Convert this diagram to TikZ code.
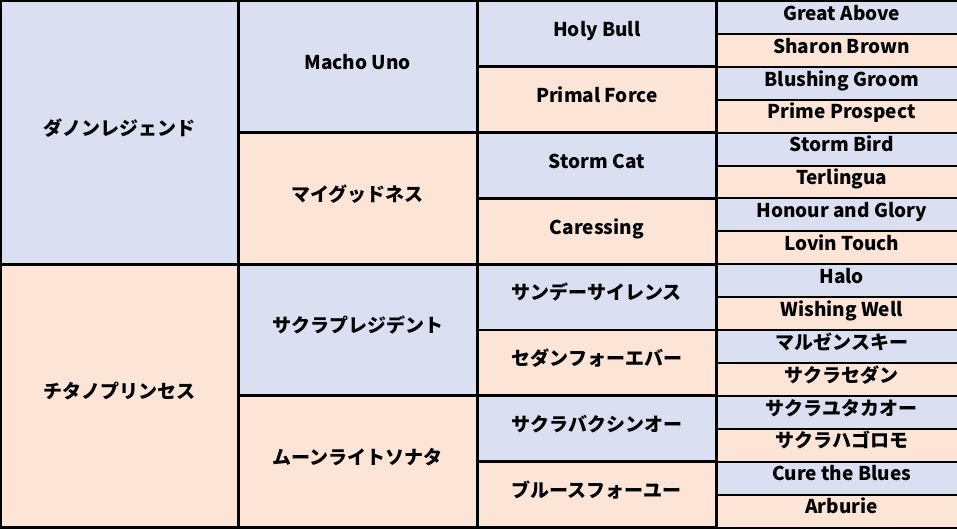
\documentclass[tikz,border=0pt]{standalone}
\usepackage{fontspec}
\setmainfont{Noto Sans CJK JP}
\usetikzlibrary{positioning}
\definecolor{sireblue}{RGB}{218,224,242}
\definecolor{damrose}{RGB}{252,228,214}

\begin{document}
\begin{tikzpicture}[x=1pt,y=-1pt,
                    cell/.style={draw,line width=2.8pt,anchor=north west,outer sep=0pt,
                                 inner sep=0pt,minimum width=238.6pt,
                                 text height=0.8em,text depth=0.25em,
                                 font=\bfseries\fontsize{19}{22}\selectfont},
                    gen1/.style={cell,minimum height=8*32.906pt},
                    gen2/.style={cell,minimum height=4*32.906pt},
                    gen3/.style={cell,minimum height=2*32.906pt},
                    gen4/.style={cell,line width=2pt,minimum height=32.906pt,minimum width=250pt},
                    sire/.style={fill=sireblue},
                    dam/.style={fill=damrose}]

  \useasboundingbox (0,0) rectangle (957,529);

  % fourth generation
  \node[gen4,sire] (ssss) at (716.7,1+0*32.906)  {Great Above};
  \node[gen4,dam]  (sssd) at (716.7,1+1*32.906)  {Sharon Brown};
  \node[gen4,sire] (ssds) at (716.7,1+2*32.906)  {Blushing Groom};
  \node[gen4,dam]  (ssdd) at (716.7,1+3*32.906)  {Prime Prospect};
  \node[gen4,sire] (sdss) at (716.7,1+4*32.906)  {Storm Bird};
  \node[gen4,dam]  (sdsd) at (716.7,1+5*32.906)  {Terlingua};
  \node[gen4,sire] (sdds) at (716.7,1+6*32.906)  {Honour and Glory};
  \node[gen4,dam]  (sddd) at (716.7,1+7*32.906)  {Lovin Touch};
  \node[gen4,sire] (dsss) at (716.7,1+8*32.906)  {Halo};
  \node[gen4,dam]  (dssd) at (716.7,1+9*32.906)  {Wishing Well};
  \node[gen4,sire] (dsds) at (716.7,1+10*32.906) {マルゼンスキー};
  \node[gen4,dam]  (dsdd) at (716.7,1+11*32.906) {サクラセダン};
  \node[gen4,sire] (ddss) at (716.7,1+12*32.906) {サクラユタカオー};
  \node[gen4,dam]  (ddsd) at (716.7,1+13*32.906) {サクラハゴロモ};
  \node[gen4,sire] (ddds) at (716.7,1+14*32.906) {Cure the Blues};
  \node[gen4,dam]  (dddd) at (716.7,1+15*32.906) {Arburie};

  % third generation
  \node[gen3,sire] (sss) at (477.5,1+0*32.906)  {Holy Bull};
  \node[gen3,dam]  (ssd) at (477.5,1+2*32.906)  {Primal Force};
  \node[gen3,sire] (sds) at (477.5,1+4*32.906)  {Storm Cat};
  \node[gen3,dam]  (sdd) at (477.5,1+6*32.906)  {Caressing};
  \node[gen3,sire] (dss) at (477.5,1+8*32.906)  {サンデーサイレンス};
  \node[gen3,dam]  (dsd) at (477.5,1+10*32.906) {セダンフォーエバー};
  \node[gen3,sire] (dds) at (477.5,1+12*32.906) {サクラバクシンオー};
  \node[gen3,dam]  (ddd) at (477.5,1+14*32.906) {ブルースフォーユー};

  % second generation
  \node[gen2,sire] (ss) at (238.3,1+0*32.906)  {Macho Uno};
  \node[gen2,dam]  (sd) at (238.3,1+4*32.906)  {マイグッドネス};
  \node[gen2,sire] (ds) at (238.3,1+8*32.906)  {サクラプレジデント};
  \node[gen2,dam]  (dd) at (238.3,1+12*32.906) {ムーンライトソナタ};

  % parents
  \node[gen1,sire,minimum width=237.3pt] (s) at (1,1)           {ダノンレジェンド};
  \node[gen1,dam,minimum width=237.3pt]  (d) at (1,1+8*32.906)  {チタノプリンセス};
\end{tikzpicture}
\end{document}
